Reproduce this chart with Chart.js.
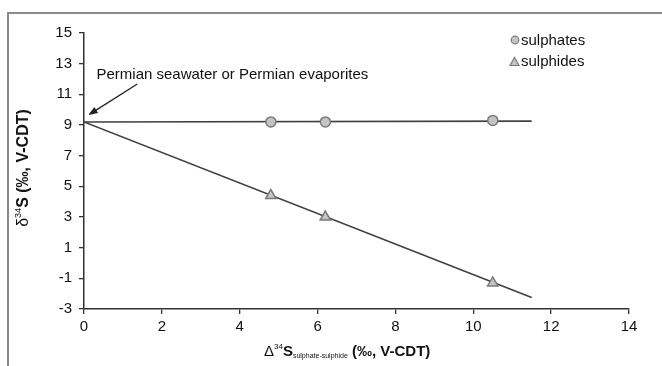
<!DOCTYPE html>
<html>
<head>
<meta charset="utf-8">
<script src="https://cdn.jsdelivr.net/npm/chart.js@4"></script>
<style>
  html, body { margin: 0; padding: 0; background: #fff; }
  #wrap { width: 662px; height: 366px; position: relative; }
</style>
</head>
<body>
<div id="wrap"><canvas id="myChart"></canvas></div>
<script>
// values
const sulphateX = [4.8, 6.2, 10.5];
const sulphateY = [9.2, 9.2, 9.3];
const sulphideX = [4.8, 6.2, 10.5];
const sulphideY = [4.4, 3.0, -1.3];
// fitted lines (start / end)
const sulphateLineX = [0, 11.5];
const sulphateLineY = [9.2, 9.25];
const sulphideLineX = [0, 11.5];
const sulphideLineY = [9.2, -2.25];
const xTicks = [0, 2, 4, 6, 8, 10, 12, 14];
const yTicks = [-3, -1, 1, 3, 5, 7, 9, 11, 13, 15];
const seriesNames = ["sulphates", "sulphides"];
const noteText = "Permian seawater or Permian evaporites";
const noteArrowFrom = [1.37, 11.67];
const noteArrowTo = [0.11, 9.65];
const noteTextAt = [0.32, 12.25];

const FONT = "'Liberation Sans', Arial, sans-serif";
const pts = (xs, ys) => xs.map((x, i) => ({ x: x, y: ys[i] }));

const decorations = {
  id: "decorations",
  beforeDraw(chart) {
    const ctx = chart.ctx;
    ctx.save();
    ctx.fillStyle = "#fff";
    ctx.fillRect(0, 0, chart.width, chart.height);
    ctx.strokeStyle = "#8a8a8a";
    ctx.lineWidth = 2;
    ctx.strokeRect(8, 13, chart.width + 20, chart.height + 20);
    ctx.restore();
  },
  afterDraw(chart) {
    const ctx = chart.ctx;
    const xs = chart.scales.x, ys = chart.scales.y;
    ctx.save();
    ctx.fillStyle = "#111";
    ctx.textBaseline = "middle";

    // annotation text + arrow
    ctx.font = "15px " + FONT;
    ctx.textAlign = "left";
    ctx.fillText(noteText, xs.getPixelForValue(noteTextAt[0]), ys.getPixelForValue(noteTextAt[1]));
    const ax0 = xs.getPixelForValue(noteArrowFrom[0]), ay0 = ys.getPixelForValue(noteArrowFrom[1]);
    const ax1 = xs.getPixelForValue(noteArrowTo[0]), ay1 = ys.getPixelForValue(noteArrowTo[1]);
    const ang = Math.atan2(ay1 - ay0, ax1 - ax0);
    ctx.strokeStyle = "#222";
    ctx.lineWidth = 1.3;
    ctx.beginPath();
    ctx.moveTo(ax0, ay0);
    ctx.lineTo(ax1 - 6 * Math.cos(ang), ay1 - 6 * Math.sin(ang));
    ctx.stroke();
    ctx.beginPath();
    ctx.moveTo(ax1, ay1);
    ctx.lineTo(ax1 - 10 * Math.cos(ang - 0.35), ay1 - 10 * Math.sin(ang - 0.35));
    ctx.lineTo(ax1 - 10 * Math.cos(ang + 0.35), ay1 - 10 * Math.sin(ang + 0.35));
    ctx.closePath();
    ctx.fillStyle = "#222";
    ctx.fill();

    // legend
    ctx.font = "15px " + FONT;
    ctx.textAlign = "left";
    ctx.lineWidth = 1.2;
    ctx.strokeStyle = "#7a7a7a";
    ctx.fillStyle = "#c4c4c4";
    ctx.beginPath();
    ctx.arc(515, 40, 3.8, 0, Math.PI * 2);
    ctx.fill(); ctx.stroke();
    ctx.beginPath();
    ctx.moveTo(514.5, 57.5); ctx.lineTo(519, 65.5); ctx.lineTo(510, 65.5); ctx.closePath();
    ctx.fill(); ctx.stroke();
    ctx.fillStyle = "#111";
    ctx.fillText(seriesNames[0], 521, 40.5);
    ctx.fillText(seriesNames[1], 521, 62);

    // x axis title: Δ34S sulphate-sulphide (‰, V-CDT)
    const parts = [
      { t: "\u0394", f: "15px " + FONT, dy: 0 },
      { t: "34", f: "8px " + FONT, dy: -5 },
      { t: "S", f: "bold 15px " + FONT, dy: 0 },
      { t: "sulphate-sulphide", f: "7px " + FONT, dy: 4 },
      { t: " (\u2030, V-CDT)", f: "bold 15px " + FONT, dy: 0 }
    ];
    let cx = 264, cy = 352;
    parts.forEach(p => { ctx.font = p.f; p.w = ctx.measureText(p.t).width; });
    parts.forEach(p => { ctx.font = p.f; ctx.fillText(p.t, cx, cy + p.dy); cx += p.w; });

    // y axis title: δ34S (‰, V-CDT), rotated
    const yparts = [
      { t: "\u03B4", f: "16px " + FONT, dy: 0 },
      { t: "34", f: "9px " + FONT, dy: -5 },
      { t: "S (\u2030, V-CDT)", f: "bold 16px " + FONT, dy: 0 }
    ];
    let ytotal = 0;
    yparts.forEach(p => { ctx.font = p.f; p.w = ctx.measureText(p.t).width; ytotal += p.w; });
    ctx.translate(24, 168);
    ctx.rotate(-Math.PI / 2);
    let yx = -ytotal / 2;
    yparts.forEach(p => { ctx.font = p.f; ctx.fillText(p.t, yx, p.dy); yx += p.w; });
    ctx.restore();
  }
};

const ctx = document.getElementById("myChart");
new Chart(ctx, {
  type: "scatter",
  data: {
    datasets: [
      {
        label: seriesNames[0],
        data: pts(sulphateX, sulphateY),
        pointStyle: "circle",
        pointRadius: 5,
        backgroundColor: "#c4c4c4",
        borderColor: "#7a7a7a",
        borderWidth: 1.5,
        order: 0
      },
      {
        label: seriesNames[1],
        data: pts(sulphideX, sulphideY),
        pointStyle: "triangle",
        pointRadius: 6,
        backgroundColor: "#c4c4c4",
        borderColor: "#7a7a7a",
        borderWidth: 1.5,
        order: 0
      },
      {
        label: "sulphate trend",
        data: pts(sulphateLineX, sulphateLineY),
        showLine: true,
        pointRadius: 0,
        borderColor: "#404040",
        borderWidth: 1.6,
        order: 1
      },
      {
        label: "sulphide trend",
        data: pts(sulphideLineX, sulphideLineY),
        showLine: true,
        pointRadius: 0,
        borderColor: "#404040",
        borderWidth: 1.6,
        order: 1
      }
    ]
  },
  options: {
    responsive: true,
    maintainAspectRatio: false,
    animation: false,
    layout: { padding: { left: 0, top: 33, right: 33, bottom: 0 } },
    plugins: { legend: { display: false }, tooltip: { enabled: false } },
    scales: {
      x: {
        type: "linear",
        min: 0,
        max: 14,
        afterBuildTicks: (s) => { s.ticks = xTicks.map(v => ({ value: v })); },
        afterFit: (s) => { s.height = 57; },
        ticks: { color: "#111", font: { family: FONT, size: 15 }, padding: 4, maxRotation: 0 },
        grid: { drawOnChartArea: false, drawTicks: true, tickLength: 5, color: "#333", lineWidth: 1.3 },
        border: { color: "#333", width: 1.5 }
      },
      y: {
        type: "linear",
        min: -3,
        max: 15,
        afterBuildTicks: (s) => { s.ticks = yTicks.map(v => ({ value: v })); },
        afterFit: (s) => { s.width = 84; },
        ticks: { color: "#111", font: { family: FONT, size: 15 }, padding: 7 },
        grid: { drawOnChartArea: false, drawTicks: true, tickLength: 5, color: "#333", lineWidth: 1.3 },
        border: { color: "#333", width: 1.5 }
      }
    }
  },
  plugins: [decorations]
});
</script>
</body>
</html>
